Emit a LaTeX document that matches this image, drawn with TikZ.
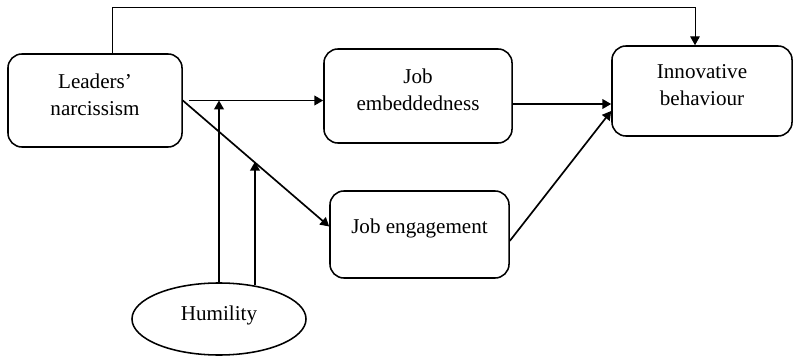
\documentclass[tikz,border=0pt]{standalone}
\usepackage{fontspec}
\setmainfont{Liberation Serif}
\usetikzlibrary{arrows.meta,shapes.geometric,calc}

\tikzset{
  varbox/.style={draw, line width=1.1pt, rounded corners=0.35cm, inner sep=0pt},
  vartext/.style={align=center, font=\fontsize{15}{19}\selectfont},
  link/.style={-{Triangle[length=0.22cm,width=0.24cm]}, line width=1.2pt}
}

\begin{document}
\begin{tikzpicture}[x=0.025cm, y=-0.025cm]
\useasboundingbox (0,0) rectangle (793,359);

\node[varbox, minimum width=4.35cm, minimum height=2.325cm] (lead) at (95,100.5) {};
\node[vartext] at ([yshift=0.15cm]lead.center) {Leaders'\\narcissism};

\node[varbox, minimum width=4.7cm, minimum height=2.35cm] (emb) at (418,96) {};
\node[vartext] at ([yshift=0.16cm]emb.center) {Job\\embeddedness};

\node[varbox, minimum width=4.5cm, minimum height=2.25cm] (innov) at (702,91) {};
\node[vartext] at ([yshift=0.15cm]innov.center) {Innovative\\behaviour};

\node[varbox, minimum width=4.475cm, minimum height=2.175cm] (eng) at (419.5,234.5) {};
\node[vartext] at ([yshift=0.14cm]eng.center) {Job engagement};

\node[draw, ellipse, line width=1.1pt, inner sep=0pt,
      minimum width=4.35cm, minimum height=1.8cm] (hum) at (219,319) {};
\node[vartext] at ([yshift=0.1cm]hum.center) {Humility};


% paths
\coordinate (split) at ([xshift=0.15cm]lead.east);
\coordinate (engin) at ([yshift=0.2cm]eng.west);
\coordinate (mod) at ($(lead.east)!0.486!(engin)$);

\draw[line width=0.6pt, -{Triangle[length=0.22cm,width=0.24cm]}]
  ([xshift=0.425cm]lead.north) -- ++(0,-46) -| ([xshift=-0.175cm]innov.north);

\draw[link] (split) -- (split -| emb.west);
\draw[link] (lead.east) -- (engin);

\draw[link] (hum.north) -- (hum.north |- split);
\draw[link] (hum.43) -- (hum.43 |- mod);

\draw[link] ([yshift=-0.2cm]emb.east) -- ([yshift=-0.2cm]emb.east -| innov.west);
\draw[link] ([yshift=-0.16cm]eng.east) -- ([yshift=-0.5cm]innov.west);

\end{tikzpicture}
\end{document}
